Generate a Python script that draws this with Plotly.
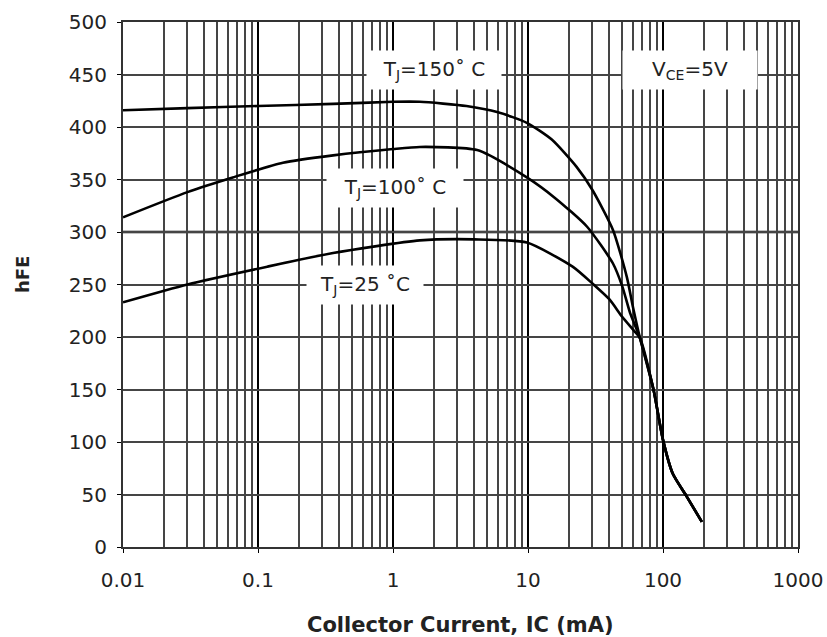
import plotly.graph_objects as go

# Collector current (mA) and hFE values
ic_150 = [0.01, 0.03, 0.1, 0.36, 1.0, 1.58, 3.5, 6.0, 9.8, 15, 22.9, 30, 42.6, 54, 60, 67.5, 85, 100, 118, 150, 194]
hfe_150 = [416, 418, 420, 422, 424, 424, 420, 414, 404, 388, 362, 340, 302, 257, 228, 199, 150, 102, 70, 48, 24]

ic_100 = [0.01, 0.03, 0.065, 0.153, 0.36, 1.0, 1.58, 4.2, 9.8, 16, 27.4, 42.6, 50, 57, 67.5, 85, 100, 118, 150, 194]
hfe_100 = [314, 338, 352, 366, 373, 379, 381, 378, 352, 332, 305, 270, 248, 223, 199, 150, 102, 70, 48, 24]

ic_25 = [0.01, 0.03, 0.117, 0.36, 1.58, 4.0, 9.8, 21.4, 30, 40, 50, 60, 67.5, 85, 100, 118, 150, 194]
hfe_25 = [233, 250, 267, 280, 292, 293, 290, 267, 251, 236, 219, 207, 199, 150, 102, 70, 48, 24]

x_ticks = [0.01, 0.1, 1, 10, 100, 1000]
x_tick_labels = ["0.01", "0.1", "1", "10", "100", "1000"]
y_ticks = [0, 50, 100, 150, 200, 250, 300, 350, 400, 450, 500]

FONT = "DejaVu Sans, Liberation Sans, Arial, sans-serif"

fig = go.Figure()
for xs, ys in [(ic_150, hfe_150), (ic_100, hfe_100), (ic_25, hfe_25)]:
    fig.add_trace(go.Scatter(x=xs, y=ys, mode="lines",
                             line=dict(color="black", width=2.6, shape="spline", smoothing=0.6),
                             showlegend=False, hoverinfo="skip"))

# Black 300 line emphasised
fig.add_shape(type="line", xref="paper", x0=0, x1=1, yref="y", y0=300, y1=300,
              line=dict(color="black", width=2.5), layer="below")

font_lbl = dict(family=FONT, size=20, color="#222")
ann = [
    (0.304, 454, "T<sub>J</sub>=150˚ C", 132),
    (0.015, 342, "T<sub>J</sub>=100˚ C", 134),
    (-0.207, 250, "T<sub>J</sub>=25 ˚C", 114),
    (2.2, 454, "V<sub>CE</sub>=5V", 132),
]
for ax_, ay_, txt, w in ann:
    fig.add_annotation(x=ax_, y=ay_, xref="x", yref="y", text=txt, showarrow=False,
                       font=font_lbl, bgcolor="white", width=w, height=36)

# Axis titles
fig.add_annotation(x=0.5, y=-0.1486, xref="paper", yref="paper", text="<b>Collector Current, IC (mA)</b>",
                   showarrow=False, font=dict(family=FONT, size=21, color="#222"),
                   xanchor="center", yanchor="middle")
fig.add_annotation(x=-0.1496, y=0.518, xref="paper", yref="paper", text="<b>hFE</b>",
                   showarrow=False, textangle=-90, font=dict(family=FONT, size=18, color="#222"),
                   xanchor="center", yanchor="middle")

fig.update_xaxes(type="log", range=[-2, 3], tickvals=x_ticks, ticktext=x_tick_labels,
                 showgrid=True, gridcolor="black", gridwidth=2,
                 minor=dict(showgrid=True, gridcolor="#454545", gridwidth=1.6, dtick="D1", ticks=""),
                 showline=True, linecolor="#333", linewidth=2, mirror=True,
                 ticks="outside", ticklen=4, tickcolor="black", ticklabelstandoff=10,
                 tickfont=dict(family=FONT, size=20, color="#222"), automargin=False)
fig.update_yaxes(range=[0, 500], tickvals=y_ticks,
                 showgrid=True, gridcolor="#454545", gridwidth=2,
                 showline=True, linecolor="#333", linewidth=2, mirror=True,
                 ticks="outside", ticklen=4, tickcolor="black", zeroline=False, ticklabelstandoff=6,
                 tickfont=dict(family=FONT, size=20, color="#222"), automargin=False)

fig.update_layout(width=827, height=637, margin=dict(l=123, r=29, t=22, b=90),
                  plot_bgcolor="white", paper_bgcolor="white")

fig.write_html("out.html", config={"displayModeBar": False},
               post_script="document.body.style.margin='0';document.body.style.overflow='hidden';")
